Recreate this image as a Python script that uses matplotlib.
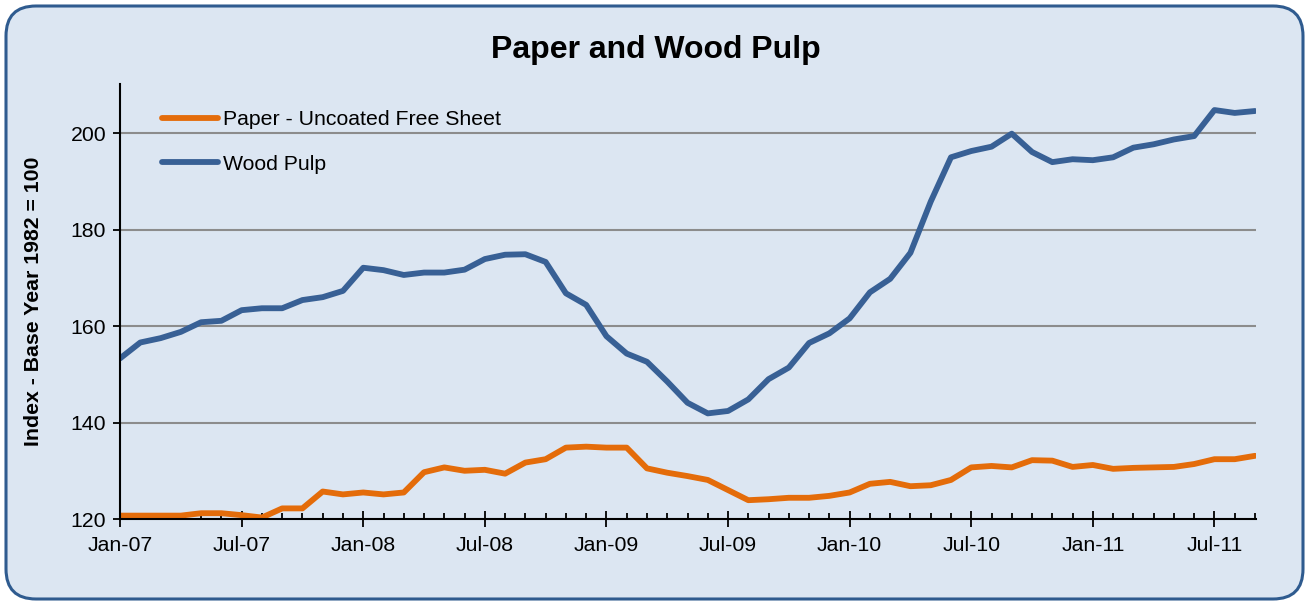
import matplotlib
matplotlib.use("Agg")
import matplotlib.pyplot as plt
from matplotlib.patches import FancyBboxPatch

# monthly index values, Jan-07 .. Sep-11
paper = [120.7, 120.7, 120.7, 120.7, 121.2, 121.2, 120.8, 120.3, 122.2, 122.2,
         125.7, 125.1, 125.5, 125.1, 125.5, 129.7, 130.7, 130.0, 130.2, 129.4,
         131.7, 132.4, 134.8, 135.0, 134.8, 134.8, 130.5, 129.6, 128.9, 128.1,
         126.0, 123.9, 124.1, 124.4, 124.4, 124.8, 125.5, 127.3, 127.7, 126.8,
         127.0, 128.1, 130.7, 131.0, 130.7, 132.2, 132.1, 130.8, 131.2, 130.4,
         130.6, 130.7, 130.8, 131.4, 132.4, 132.4, 133.1]
wood_pulp = [153.3, 156.6, 157.5, 158.8, 160.8, 161.1, 163.3, 163.7, 163.7, 165.4,
             166.0, 167.3, 172.1, 171.6, 170.6, 171.1, 171.1, 171.7, 173.9, 174.8,
             174.9, 173.3, 166.8, 164.4, 157.9, 154.3, 152.6, 148.5, 144.1, 141.9,
             142.4, 144.8, 149.0, 151.4, 156.5, 158.5, 161.6, 167.0, 169.8, 175.2,
             185.8, 195.0, 196.3, 197.2, 199.9, 196.1, 194.0, 194.6, 194.4, 195.0,
             197.0, 197.7, 198.7, 199.4, 204.8, 204.2, 204.6]
tick_labels = ["Jan-07", "Jul-07", "Jan-08", "Jul-08", "Jan-09", "Jul-09",
               "Jan-10", "Jul-10", "Jan-11", "Jul-11"]
y_ticks = [120, 140, 160, 180, 200]

plt.rcParams["font.family"] = ["Liberation Sans", "DejaVu Sans"]

bg = "#dce6f2"
fs = 15.3
fig = plt.figure(figsize=(13.09, 6.03), dpi=100)
fig.patch.set_facecolor("white")

# rounded chart frame, drawn behind the axes
frame = FancyBboxPatch((0.06, 0.04), 12.97, 5.93,
                       boxstyle="round,pad=0,rounding_size=0.3",
                       transform=fig.dpi_scale_trans, facecolor=bg,
                       edgecolor="#2f5b8f", linewidth=2.2, zorder=-5)
fig.patches.append(frame)

ax = fig.add_axes([0.0917, 0.1393, 0.8678, 0.7222])
ax.set_facecolor("none")

x = list(range(len(paper)))
ax.plot(x, paper, color="#e46c0a", lw=4.2, solid_capstyle="round",
        label="Paper - Uncoated Free Sheet", zorder=3)
ax.plot(x, wood_pulp, color="#386095", lw=4.2, solid_capstyle="round",
        label="Wood Pulp", zorder=3)

ax.set_xlim(0, len(paper) - 0.95)
ax.set_ylim(120, 210.3)
ax.set_yticks(y_ticks)
ax.set_xticks(range(0, len(paper), 6))
ax.set_xticklabels(tick_labels)
ax.set_xticks(range(len(paper)), minor=True)

for v in y_ticks[1:]:
    ax.axhline(v, color="#8c8c8c", lw=1.5, zorder=1)

for s in ["top", "right"]:
    ax.spines[s].set_visible(False)
for s in ["left", "bottom"]:
    ax.spines[s].set_linewidth(1.5)
    ax.spines[s].set_zorder(4)

ax.tick_params(axis="y", direction="out", length=5, width=1.3,
               labelsize=fs, pad=5)
ax.tick_params(axis="x", which="major", direction="inout", length=11,
               width=1.3, labelsize=fs, pad=7)
ax.tick_params(axis="x", which="minor", direction="in", length=4, width=1.3)

ax.set_ylabel("Index - Base Year 1982 = 100", fontsize=fs,
              fontweight="bold", labelpad=20)
fig.text(0.501, 0.917, "Paper and Wood Pulp", ha="center", va="center",
         fontsize=23, fontweight="bold")

ax.legend(loc="upper left", bbox_to_anchor=(0.037, 0.939), frameon=False,
          fontsize=fs, handlelength=2.65, handletextpad=0.2,
          labelspacing=1.2, borderpad=0, borderaxespad=0)

fig.savefig("out.png", dpi=100, facecolor="white")
